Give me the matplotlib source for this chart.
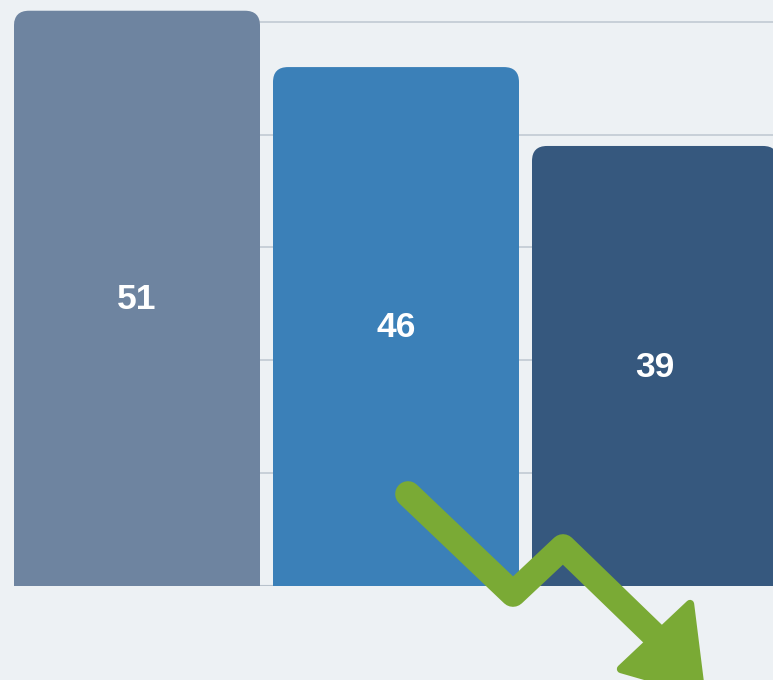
import matplotlib
matplotlib.use("Agg")
import matplotlib.pyplot as plt
from matplotlib.patches import FancyBboxPatch, Polygon
from matplotlib.lines import Line2D
import numpy as np

categories = ["A", "B", "C"]
values = [51, 46, 39]
labels = ["51", "46", "39"]
colors = ["#6e84a0", "#3b80b8", "#36587e"]
grid_ticks = [10, 20, 30, 40, 50]

BG = "#edf1f4"
GREEN = "#7aaa35"

W, H = 773, 680
fig = plt.figure(figsize=(W / 100, H / 100), dpi=100)
fig.patch.set_facecolor(BG)

ax_l, ax_r, ax_b, ax_t = 14, 773, 585.5, 0
ax = fig.add_axes([ax_l / W, (H - ax_b) / H, (ax_r - ax_l) / W, (ax_b - ax_t) / H])
ax.set_facecolor(BG)

px_per_x = 259.0
px_per_y = 11.27
bw = 246 / 259
x = np.arange(len(values))
ax.set_xlim(-bw / 2, -bw / 2 + (ax_r - ax_l) / px_per_x)
ax.set_ylim(0, (ax_b - ax_t) / px_per_y)

for t in grid_ticks:
    ax.axhline(t, color="#c5cdd6", lw=1.3, zorder=0)
ax.axhline(0, color="#b8c2cc", lw=1.5, zorder=0)

bars = ax.bar(x, values, width=bw, color=colors, zorder=2)
r_px = 15
for rect, c in zip(bars, colors):
    rect.set_visible(False)
    x0 = rect.get_x()
    w = rect.get_width()
    h = rect.get_height()
    p = FancyBboxPatch((x0, -3), w, h + 3,
                       boxstyle=f"round,pad=0,rounding_size={r_px / px_per_x}",
                       mutation_aspect=px_per_x / px_per_y,
                       fc=c, ec="none", zorder=2, clip_on=True)
    ax.add_patch(p)

for xi, v, lab in zip(x, values, labels):
    ax.text(xi, v / 2 - 0.15, lab, ha="center", va="center", color="white",
            fontsize=25.5, fontweight="bold", family=["Liberation Sans", "DejaVu Sans"], zorder=3)

for s in ax.spines.values():
    s.set_visible(False)
ax.set_xticks([])
ax.set_yticks([])

# decorative trend arrow in figure pixel space
def fx(px):
    return px / W

def fy(py):
    return 1 - py / H

pts = [(408, 494), (513, 594), (563, 547), (655, 636)]
line = Line2D([fx(p[0]) for p in pts], [fy(p[1]) for p in pts], transform=fig.transFigure,
              color=GREEN, lw=18.5, solid_capstyle="round", solid_joinstyle="round", zorder=5)
fig.add_artist(line)
head = Polygon([(fx(621), fy(669)), (fx(690), fy(604)), (fx(701), fy(692))], closed=True,
               transform=fig.transFigure, fc=GREEN, ec=GREEN, lw=6, joinstyle="round", zorder=5)
fig.add_artist(head)

fig.savefig("out.png", dpi=100, facecolor=BG)
